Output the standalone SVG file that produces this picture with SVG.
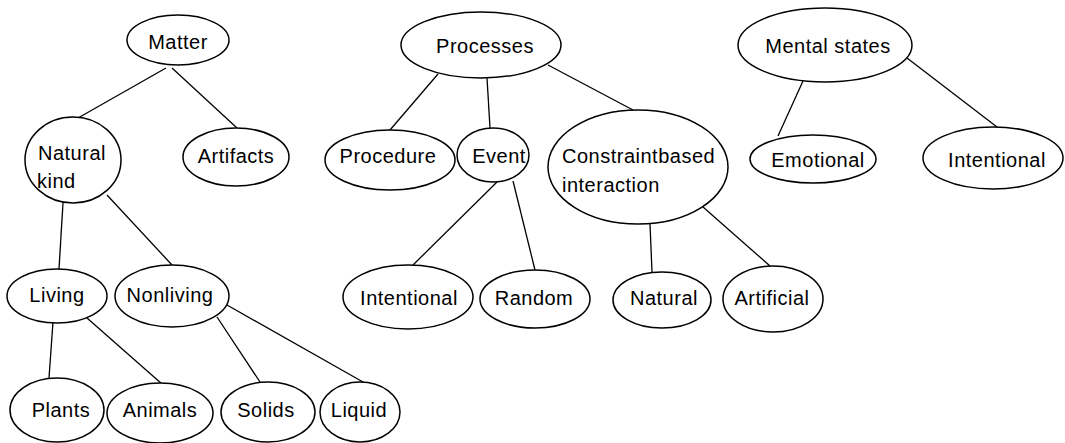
<svg xmlns="http://www.w3.org/2000/svg" width="1065" height="443" viewBox="0 0 1065 443">
<style>
.n ellipse{fill:#fff;stroke:#000;stroke-width:1.5}
.n text{font-family:"Liberation Sans",Arial,sans-serif;font-size:20px;letter-spacing:0.5px;fill:#000;text-anchor:middle}
.n text.l{text-anchor:start}
#edges line{stroke:#000;stroke-width:1.3}
</style>
<rect width="1065" height="443" fill="#fff"/>
<g id="edges">
<line x1="166" y1="68" x2="78" y2="118"/>
<line x1="172" y1="68" x2="237" y2="128"/>
<line x1="63" y1="203" x2="59" y2="269"/>
<line x1="107" y1="195" x2="172" y2="265"/>
<line x1="53" y1="322" x2="49" y2="378"/>
<line x1="87" y1="318" x2="162" y2="384"/>
<line x1="217" y1="317" x2="260" y2="382"/>
<line x1="227" y1="305" x2="363" y2="382"/>
<line x1="438" y1="74" x2="390" y2="130"/>
<line x1="487" y1="78" x2="490" y2="128"/>
<line x1="548" y1="65" x2="633" y2="110"/>
<line x1="497" y1="182" x2="413" y2="265"/>
<line x1="513" y1="181" x2="535" y2="270"/>
<line x1="650" y1="224" x2="652" y2="272"/>
<line x1="703" y1="207" x2="770" y2="266"/>
<line x1="803" y1="81" x2="778" y2="136"/>
<line x1="907" y1="58" x2="997" y2="127"/>
</g>
<g id="matter" class="n"><ellipse cx="178" cy="40" rx="51" ry="25"/><text x="178" y="49">Matter</text></g>
<g id="natural-kind" class="n"><ellipse cx="73" cy="160" rx="48" ry="43"/><text class="l" x="38" y="160">Natural</text><text class="l" x="37" y="188">kind</text></g>
<g id="artifacts" class="n"><ellipse cx="236" cy="157" rx="53" ry="29"/><text x="236" y="163">Artifacts</text></g>
<g id="living" class="n"><ellipse cx="57" cy="296" rx="50" ry="27"/><text x="57" y="302">Living</text></g>
<g id="nonliving" class="n"><ellipse cx="172" cy="296" rx="57" ry="31"/><text x="170" y="302">Nonliving</text></g>
<g id="plants" class="n"><ellipse cx="57" cy="410" rx="47" ry="32"/><text x="61" y="417">Plants</text></g>
<g id="animals" class="n"><ellipse cx="160" cy="413" rx="53" ry="30"/><text x="160" y="417">Animals</text></g>
<g id="solids" class="n"><ellipse cx="268" cy="412" rx="47" ry="30"/><text x="266" y="417">Solids</text></g>
<g id="liquid" class="n"><ellipse cx="360" cy="412" rx="40" ry="30"/><text x="359" y="417">Liquid</text></g>
<g id="processes" class="n"><ellipse cx="481" cy="45" rx="80" ry="33"/><text x="485" y="53">Processes</text></g>
<g id="procedure" class="n"><ellipse cx="390" cy="160" rx="65" ry="30"/><text x="388" y="163">Procedure</text></g>
<g id="event" class="n"><ellipse cx="493" cy="155" rx="36" ry="27"/><text x="499" y="163">Event</text></g>
<g id="constraint" class="n"><ellipse cx="638" cy="167" rx="90" ry="57"/><text class="l" x="562" y="163">Constraintbased</text><text class="l" x="562" y="192">interaction</text></g>
<g id="intentional-event" class="n"><ellipse cx="408" cy="297" rx="65" ry="32"/><text x="409" y="305">Intentional</text></g>
<g id="random" class="n"><ellipse cx="535" cy="299" rx="55" ry="29"/><text x="534" y="305">Random</text></g>
<g id="natural" class="n"><ellipse cx="662" cy="300" rx="49" ry="28"/><text x="664" y="305">Natural</text></g>
<g id="artificial" class="n"><ellipse cx="773" cy="299" rx="50" ry="33"/><text x="772" y="305">Artificial</text></g>
<g id="mental-states" class="n"><ellipse cx="825" cy="45" rx="87" ry="37"/><text x="828" y="53">Mental states</text></g>
<g id="emotional" class="n"><ellipse cx="813" cy="159" rx="63" ry="24"/><text x="818" y="167">Emotional</text></g>
<g id="intentional-mental" class="n"><ellipse cx="993" cy="158" rx="70" ry="31"/><text x="997" y="167">Intentional</text></g>
</svg>
